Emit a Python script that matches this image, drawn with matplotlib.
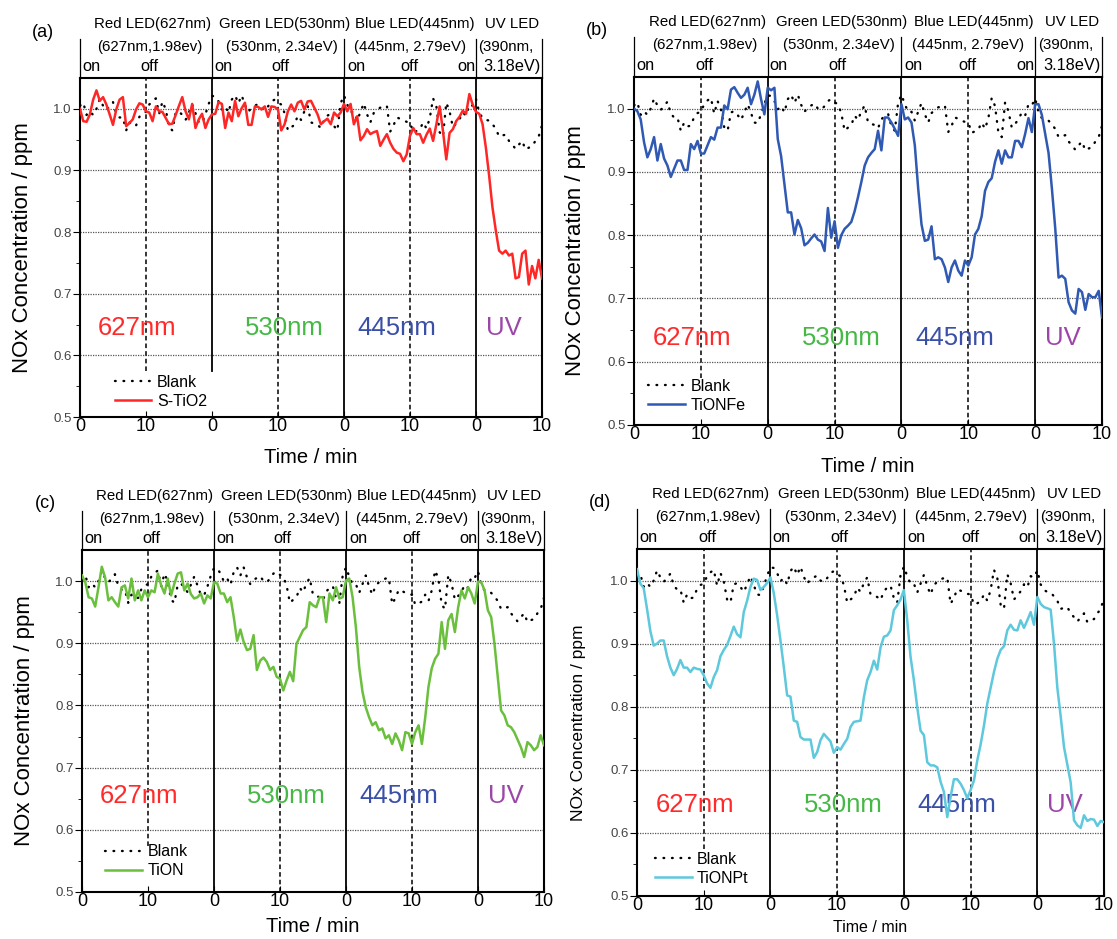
import matplotlib
matplotlib.use('Agg')
import matplotlib.pyplot as plt
import numpy as np

plt.rcParams['font.family'] = ['Liberation Sans', 'DejaVu Sans']

# sampling every 0.5 min, 70 min in total (20 + 20 + 20 + 10)
t = np.arange(0, 70.5, 0.5)

blank = [1.005, 1.010, 0.990, 0.996, 0.990, 1.000, 1.016, 1.005, 0.998, 1.004,
         1.011, 0.992, 0.986, 0.986, 0.965, 0.978, 0.972, 0.973, 0.987, 0.993,
         0.995, 1.007, 1.013, 1.017, 0.992, 1.012, 0.999, 0.970, 0.965, 0.994,
         0.996, 0.990, 0.982, 0.994, 1.007, 0.993, 0.978, 0.977, 0.991, 1.008,
         1.021, 1.020, 1.012, 0.999, 1.004, 0.994, 1.015, 1.022, 1.009, 1.022,
         1.006, 0.995, 1.002, 1.005, 1.008, 1.000, 0.998, 1.004, 1.012, 1.015,
         1.010, 1.007, 0.993, 0.965, 0.970, 0.974, 0.989, 0.982, 0.996, 1.005,
         0.978, 0.976, 0.974, 0.969, 0.983, 0.989, 0.992, 0.972, 0.965, 1.009,
         1.022, 1.007, 0.995, 0.995, 0.981, 0.995, 1.009, 0.991, 0.978, 0.993,
         0.998, 1.002, 1.004, 1.005, 0.963, 0.973, 0.986, 0.984, 0.981, 0.979,
         0.978, 0.962, 0.964, 0.967, 0.978, 0.968, 0.985, 1.017, 1.004, 0.962,
         0.955, 1.010, 0.996, 0.970, 0.976, 0.983, 0.994, 0.989, 1.007, 1.005,
         1.016, 0.994, 0.985, 0.982, 0.981, 0.975, 0.968, 0.955, 0.957, 0.958,
         0.948, 0.942, 0.935, 0.942, 0.948, 0.934, 0.937, 0.939, 0.948, 0.955,
         0.973]

s_tio2 = [1.000, 0.980, 0.979, 0.991, 1.015, 1.030, 1.013, 1.019, 1.007, 0.991,
          0.974, 0.999, 1.015, 1.019, 0.972, 0.977, 0.983, 0.999, 1.009, 1.007,
          0.996, 0.994, 0.980, 1.004, 0.996, 0.995, 0.985, 0.975, 0.976, 0.990,
          1.005, 1.019, 0.996, 0.983, 1.008, 0.969, 0.983, 0.992, 0.969, 0.983,
          0.991, 0.992, 1.011, 1.008, 0.969, 0.994, 0.980, 1.013, 0.988, 1.001,
          1.010, 0.974, 0.974, 1.004, 1.003, 0.999, 1.004, 0.987, 1.004, 1.003,
          0.999, 0.965, 0.975, 0.996, 1.007, 0.996, 1.010, 1.013, 0.999, 1.012,
          1.013, 1.002, 0.991, 0.975, 0.980, 0.984, 0.975, 0.994, 0.988, 0.994,
          1.008, 0.996, 1.008, 0.975, 0.988, 0.949, 0.956, 0.967, 0.959, 0.962,
          0.964, 0.940, 0.950, 0.959, 0.945, 0.935, 0.929, 0.927, 0.915, 0.926,
          0.956, 0.969, 0.959, 0.959, 0.945, 0.958, 0.968, 0.948, 0.975, 1.004,
          0.964, 0.918, 0.961, 0.967, 0.980, 0.987, 0.997, 0.992, 1.024, 1.007,
          0.995, 0.992, 0.975, 0.937, 0.891, 0.840, 0.803, 0.770, 0.765, 0.770,
          0.762, 0.765, 0.725, 0.727, 0.765, 0.770, 0.715, 0.745, 0.725, 0.755,
          0.725]

tionfe = [1.000, 0.996, 0.983, 0.947, 0.923, 0.936, 0.955, 0.918, 0.944, 0.921,
          0.910, 0.892, 0.905, 0.918, 0.918, 0.903, 0.903, 0.944, 0.936, 0.949,
          0.929, 0.929, 0.942, 0.955, 0.951, 0.970, 0.970, 1.005, 0.999, 1.030,
          1.034, 1.025, 1.017, 1.022, 1.033, 1.007, 1.022, 1.043, 1.015, 0.991,
          1.033, 1.029, 1.033, 0.952, 0.925, 0.880, 0.836, 0.836, 0.801, 0.824,
          0.811, 0.784, 0.788, 0.795, 0.801, 0.793, 0.790, 0.775, 0.843, 0.796,
          0.822, 0.780, 0.800, 0.810, 0.815, 0.821, 0.838, 0.860, 0.884, 0.910,
          0.923, 0.930, 0.936, 0.965, 0.934, 0.986, 0.986, 0.978, 0.968, 0.957,
          1.007, 0.983, 0.986, 0.978, 0.942, 0.874, 0.817, 0.791, 0.793, 0.814,
          0.762, 0.765, 0.762, 0.749, 0.726, 0.749, 0.760, 0.744, 0.736, 0.760,
          0.752, 0.765, 0.801, 0.810, 0.830, 0.870, 0.884, 0.890, 0.916, 0.934,
          0.913, 0.934, 0.923, 0.923, 0.949, 0.949, 0.939, 0.960, 0.985, 0.963,
          1.007, 1.007, 0.990, 0.960, 0.930, 0.874, 0.811, 0.733, 0.736, 0.731,
          0.694, 0.681, 0.676, 0.715, 0.710, 0.682, 0.707, 0.702, 0.702, 0.712,
          0.670]

tion = [1.009, 0.998, 0.974, 0.972, 0.959, 0.990, 1.023, 1.006, 0.969, 0.974,
        0.966, 0.959, 0.990, 0.993, 0.972, 1.004, 0.969, 0.985, 0.969, 0.985,
        0.974, 0.985, 0.982, 1.012, 0.993, 0.980, 1.004, 0.977, 0.996, 1.012,
        1.014, 0.985, 0.996, 0.979, 0.972, 0.974, 0.980, 0.964, 0.977, 0.972,
        0.998, 0.996, 0.980, 0.980, 0.966, 0.974, 0.942, 0.904, 0.922, 0.902,
        0.889, 0.891, 0.913, 0.857, 0.872, 0.877, 0.870, 0.857, 0.862, 0.846,
        0.843, 0.824, 0.840, 0.854, 0.839, 0.899, 0.910, 0.921, 0.926, 0.966,
        0.961, 0.958, 0.974, 0.974, 0.934, 0.980, 0.969, 0.990, 0.972, 0.974,
        1.001, 1.004, 0.974, 0.926, 0.862, 0.822, 0.797, 0.781, 0.768, 0.773,
        0.760, 0.763, 0.747, 0.752, 0.738, 0.755, 0.744, 0.728, 0.757, 0.755,
        0.738, 0.757, 0.768, 0.738, 0.780, 0.830, 0.860, 0.875, 0.883, 0.934,
        0.891, 0.937, 0.947, 0.918, 0.958, 0.985, 0.972, 0.990, 0.980, 0.964,
        0.999, 0.998, 0.985, 0.953, 0.942, 0.899, 0.845, 0.792, 0.784, 0.768,
        0.765, 0.757, 0.745, 0.733, 0.717, 0.741, 0.736, 0.728, 0.733, 0.752,
        0.736]

tionpt = [1.018, 0.995, 0.988, 0.955, 0.920, 0.897, 0.900, 0.905, 0.905, 0.880,
          0.862, 0.850, 0.860, 0.874, 0.862, 0.862, 0.855, 0.862, 0.860, 0.859,
          0.850, 0.837, 0.830, 0.847, 0.858, 0.880, 0.890, 0.898, 0.912, 0.927,
          0.915, 0.910, 0.950, 0.968, 0.990, 1.003, 1.001, 0.985, 0.990, 0.996,
          1.005, 0.980, 0.945, 0.905, 0.863, 0.818, 0.816, 0.778, 0.776, 0.752,
          0.748, 0.748, 0.748, 0.719, 0.728, 0.747, 0.757, 0.751, 0.745, 0.727,
          0.736, 0.732, 0.741, 0.749, 0.768, 0.776, 0.777, 0.778, 0.815, 0.842,
          0.855, 0.873, 0.859, 0.894, 0.911, 0.913, 0.921, 0.953, 0.961, 0.970,
          0.985, 0.937, 0.879, 0.842, 0.799, 0.762, 0.755, 0.712, 0.707, 0.707,
          0.704, 0.681, 0.665, 0.625, 0.657, 0.685, 0.685, 0.678, 0.668, 0.655,
          0.668, 0.683, 0.715, 0.740, 0.770, 0.805, 0.830, 0.855, 0.876, 0.890,
          0.896, 0.921, 0.930, 0.922, 0.921, 0.937, 0.925, 0.937, 0.950, 0.930,
          0.974, 0.963, 0.958, 0.956, 0.954, 0.900, 0.830, 0.785, 0.736, 0.708,
          0.680, 0.620, 0.612, 0.608, 0.628, 0.619, 0.622, 0.621, 0.611, 0.619,
          0.617]

tick_pos = [0, 10, 20, 30, 40, 50, 60, 70]
tick_lab = ['0', '10', '0', '10', '0', '10', '0', '10']
led_names = ['Red LED(627nm)', 'Green LED(530nm)', 'Blue LED(445nm)', 'UV LED']
led_info = ['(627nm,1.98ev)', '(530nm, 2.34eV)', '(445nm, 2.79eV)', '(390nm,']
wl_labels = ['627nm', '530nm', '445nm', 'UV']
wl_colors = ['#ff2b2b', '#45b845', '#3a4fa8', '#9b47a8']


def panel(ax, y, color, name, letter, leg_xy, wl_y, ylab_size, xlab_size,
          xlab_y=-0.118, cut20=False):
    bl, = ax.plot(t, blank, color='k', lw=1.7, linestyle=(0, (0.3, 3.3)),
                  dash_capstyle='round', label='Blank', zorder=3)
    ln, = ax.plot(t, y, color=color, lw=1.8, label=name, zorder=4)
    ax.set_xlim(0, 70)
    ax.set_ylim(0.5, 1.05)

    # grid lines
    for g in [0.6, 0.7, 0.8, 0.9, 1.0]:
        ax.axhline(g, color='#555555', lw=0.9, linestyle=(0, (1, 1)), zorder=1)
    # light on / off boundaries
    ax.axvline(20, ymin=0.135 if cut20 else 0, color='k', lw=1.3, zorder=2)
    ax.axvline(40, color='k', lw=1.3, zorder=2)
    ax.axvline(60, color='k', lw=1.3, zorder=2)
    ax.axvline(10, ymin=0.135, color='k', lw=1.1, linestyle=(0, (3, 2)), zorder=2)
    ax.axvline(30, color='k', lw=1.1, linestyle=(0, (3, 2)), zorder=2)
    ax.axvline(50, color='k', lw=1.1, linestyle=(0, (3, 2)), zorder=2)

    tr = ax.get_xaxis_transform()
    for x in [0, 20, 40, 60, 70]:
        ax.plot([x, x], [1.0, 1.115], transform=tr, color='k', lw=0.9, clip_on=False)
    for x, s in zip([11.0, 31.0, 50.8, 65.5], led_names):
        ax.text(x, 1.158, s, transform=tr, ha='center', va='center', fontsize=10.8)
    for x, s in zip([10.6, 30.6, 50.0], led_info[:3]):
        ax.text(x, 1.092, s, transform=tr, ha='center', va='center', fontsize=10.8)
    ax.text(60.4, 1.092, led_info[3], transform=tr, ha='left', va='center', fontsize=10.8)
    for x, s, h in [(0.4, 'on', 'left'), (10.5, 'off', 'center'), (20.3, 'on', 'left'),
                    (30.4, 'off', 'center'), (40.5, 'on', 'left'), (49.9, 'off', 'center'),
                    (59.9, 'on', 'right'), (65.5, '3.18eV)', 'center')]:
        ax.text(x, 1.034, s, transform=tr, ha=h, va='center', fontsize=11.8)

    for x, s, c in zip([8.7, 31.0, 48.0, 64.2], wl_labels, wl_colors):
        ax.text(x, wl_y, s, color=c, ha='center', va='center', fontsize=18.5)

    ax.set_xticks(tick_pos)
    ax.set_xticklabels(tick_lab)
    ax.set_yticks([0.5, 0.6, 0.7, 0.8, 0.9, 1.0])
    ax.set_yticklabels(['0.5', '0.6', '0.7', '0.8', '0.9', '1.0'])
    ax.set_yticks([0.55, 0.65, 0.75, 0.85, 0.95], minor=True)
    ax.tick_params(axis='x', direction='in', length=4, labelsize=13, pad=1)
    ax.tick_params(axis='y', which='major', direction='out', length=5,
                   labelsize=9.5, labelcolor='#444444', pad=1)
    ax.tick_params(axis='y', which='minor', direction='out', length=3)
    for sp in ax.spines.values():
        sp.set_linewidth(1.5)

    ax.text(-0.125, 0.5, 'NOx Concentration / ppm', transform=ax.transAxes,
            rotation=90, ha='center', va='center', fontsize=ylab_size)
    ax.text(0.5, xlab_y, 'Time / min', transform=ax.transAxes,
            ha='center', va='center', fontsize=xlab_size)
    ax.text(-0.08, 1.135, letter, transform=ax.transAxes,
            ha='center', va='center', fontsize=13)

    ax.legend(handles=[bl, ln], loc='lower left', bbox_to_anchor=leg_xy,
              frameon=False, fontsize=11.5, handlelength=2.3, handletextpad=0.35,
              labelspacing=0.25, borderpad=0, borderaxespad=0)


fig = plt.figure(figsize=(11.17, 9.39), dpi=100)
ax_a = fig.add_axes([0.0716, 0.5559, 0.4136, 0.3610])
ax_b = fig.add_axes([0.5676, 0.5474, 0.4190, 0.3706])
ax_c = fig.add_axes([0.0734, 0.0501, 0.4136, 0.3642])
ax_d = fig.add_axes([0.5703, 0.0458, 0.4181, 0.3695])

panel(ax_a, s_tio2, '#ff2626', 'S-TiO2', '(a)', (0.075, 0.025), 0.645, 16, 14.5, cut20=True)
panel(ax_b, tionfe, '#2f59b3', 'TiONFe', '(b)', (0.030, 0.035), 0.637, 16, 14.5)
panel(ax_c, tion, '#6abf3c', 'TiON', '(c)', (0.050, 0.040), 0.655, 16, 14.5, xlab_y=-0.1)
panel(ax_d, tionpt, '#5ec8dc', 'TiONPt', '(d)', (0.038, 0.030), 0.644, 12.5, 11.5, xlab_y=-0.09)

fig.savefig('out.png', dpi=100)
